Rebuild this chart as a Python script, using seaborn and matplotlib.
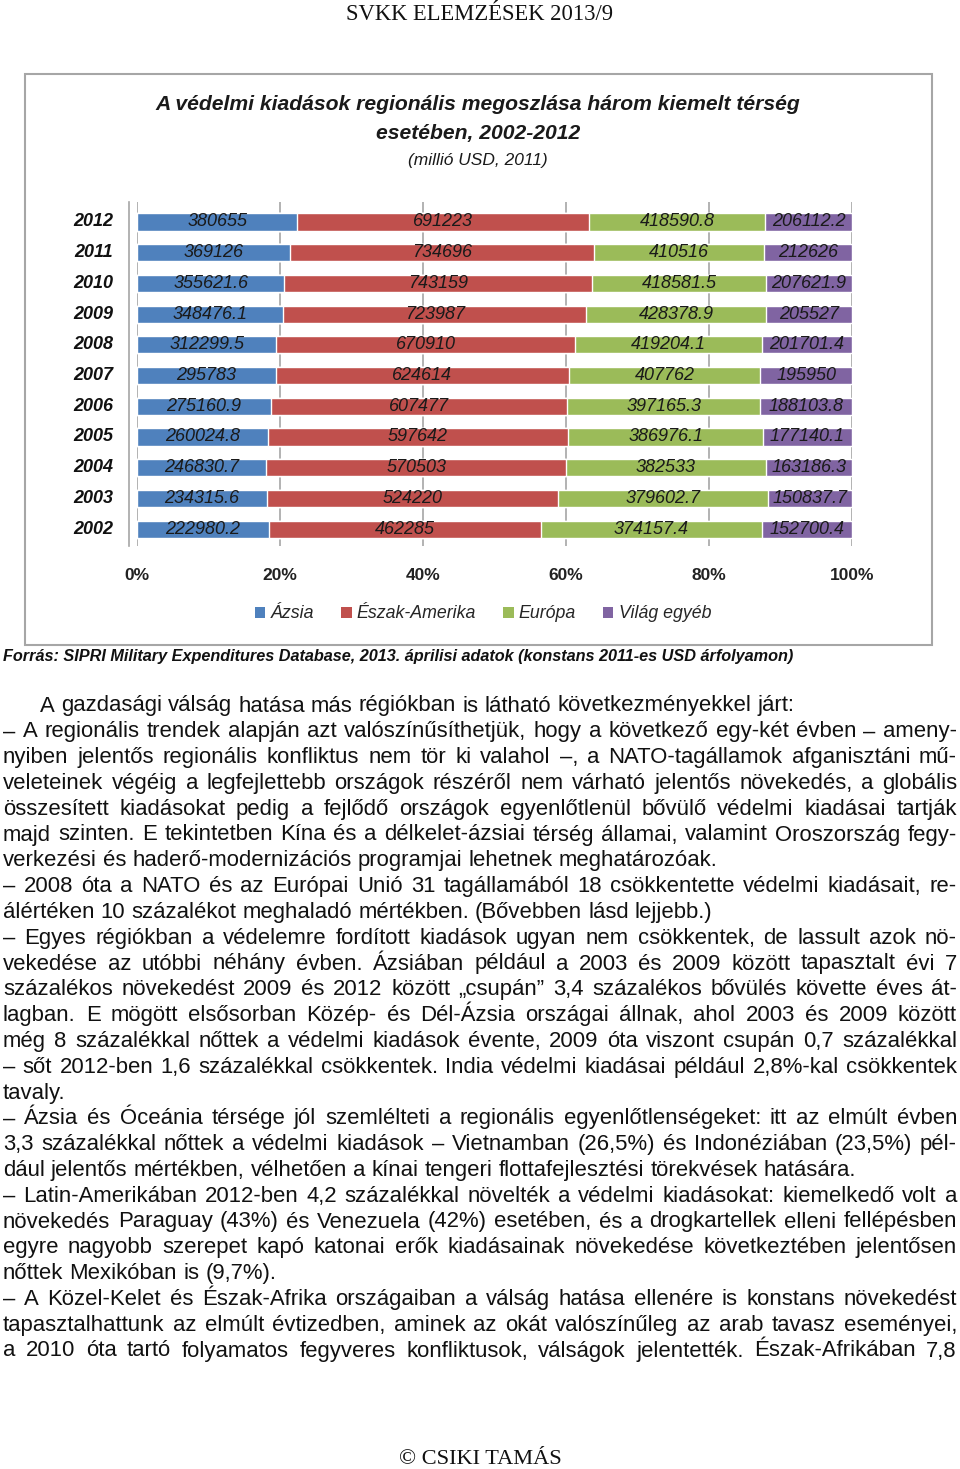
import matplotlib
matplotlib.use("Agg")
import matplotlib.pyplot as plt
import matplotlib.transforms as mtransforms
import numpy as np
import pandas as pd
import seaborn as sns
from matplotlib.patches import Patch, Rectangle


W, H = 960, 1469

YEARS = ["2012", "2011", "2010", "2009", "2008", "2007", "2006", "2005", "2004", "2003", "2002"]
ASIA = [380655, 369126, 355621.6, 348476.1, 312299.5, 295783, 275160.9, 260024.8, 246830.7, 234315.6, 222980.2]
NORTH_AMERICA = [691223, 734696, 743159, 723987, 670910, 624614, 607477, 597642, 570503, 524220, 462285]
EUROPE = [418590.8, 410516, 418581.5, 428378.9, 419204.1, 407762, 397165.3, 386976.1, 382533, 379602.7, 374157.4]
OTHER = [206112.2, 212626, 207621.9, 205527, 201701.4, 195950, 188103.8, 177140.1, 163186.3, 150837.7, 152700.4]
REGIONS = ["Ázsia", "Észak-Amerika", "Európa", "Világ egyéb"]
COLORS = ["#4f81bd", "#c0504d", "#9bbb59", "#8064a2"]
X_TICKS = [0, 20, 40, 60, 80, 100]

TITLE_1 = "A védelmi kiadások regionális megoszlása három kiemelt térség"
TITLE_2 = "esetében, 2002-2012"
SUBTITLE = "(millió USD, 2011)"
HEADER = "SVKK ELEMZÉSEK 2013/9"
FOOTER = "© CSIKI TAMÁS"
SOURCE = "Forrás: SIPRI Military Expenditures Database, 2013. áprilisi adatok (konstans 2011-es USD árfolyamon)"

# paragraphs as printed: (lines, indent, justify last line)
PARAGRAPHS = [
    (["A gazdasági válság hatása más régiókban is látható következményekkel járt:"], 40, False),
    ([
        "– A regionális trendek alapján azt valószínűsíthetjük, hogy a következő egy-két évben – ameny-",
        "nyiben jelentős regionális konfliktus nem tör ki valahol –, a NATO-tagállamok afganisztáni mű-",
        "veleteinek végéig a legfejlettebb országok részéről nem várható jelentős növekedés, a globális",
        "összesített kiadásokat pedig a fejlődő országok egyenlőtlenül bővülő védelmi kiadásai tartják",
        "majd szinten. E tekintetben Kína és a délkelet-ázsiai térség államai, valamint Oroszország fegy-",
        "verkezési és haderő-modernizációs programjai lehetnek meghatározóak.",
    ], 3, False),
    ([
        "– 2008 óta a NATO és az Európai Unió 31 tagállamából 18 csökkentette védelmi kiadásait, re-",
        "álértéken 10 százalékot meghaladó mértékben. (Bővebben lásd lejjebb.)",
    ], 3, False),
    ([
        "– Egyes régiókban a védelemre fordított kiadások ugyan nem csökkentek, de lassult azok nö-",
        "vekedése az utóbbi néhány évben. Ázsiában például a 2003 és 2009 között tapasztalt évi 7",
        "százalékos növekedést 2009 és 2012 között „csupán” 3,4 százalékos bővülés követte éves át-",
        "lagban. E mögött elsősorban Közép- és Dél-Ázsia országai állnak, ahol 2003 és 2009 között",
        "még 8 százalékkal nőttek a védelmi kiadások évente, 2009 óta viszont csupán 0,7 százalékkal",
        "– sőt 2012-ben 1,6 százalékkal csökkentek. India védelmi kiadásai például 2,8%-kal csökkentek",
        "tavaly.",
    ], 3, False),
    ([
        "– Ázsia és Óceánia térsége jól szemlélteti a regionális egyenlőtlenségeket: itt az elmúlt évben",
        "3,3 százalékkal nőttek a védelmi kiadások – Vietnamban (26,5%) és Indonéziában (23,5%) pél-",
        "dául jelentős mértékben, vélhetően a kínai tengeri flottafejlesztési törekvések hatására.",
    ], 3, False),
    ([
        "– Latin-Amerikában 2012-ben 4,2 százalékkal növelték a védelmi kiadásokat: kiemelkedő volt a",
        "növekedés Paraguay (43%) és Venezuela (42%) esetében, és a drogkartellek elleni fellépésben",
        "egyre nagyobb szerepet kapó katonai erők kiadásainak növekedése következtében jelentősen",
        "nőttek Mexikóban is (9,7%).",
    ], 3, False),
    ([
        "– A Közel-Kelet és Észak-Afrika országaiban a válság hatása ellenére is konstans növekedést",
        "tapasztalhattunk az elmúlt évtizedben, aminek az okát valószínűleg az arab tavasz eseményei,",
        "a 2010 óta tartó folyamatos fegyveres konfliktusok, válságok jelentették. Észak-Afrikában 7,8",
    ], 3, True),
]

SANS = ["Liberation Sans", "DejaVu Sans"]
SERIF = ["Liberation Serif", "DejaVu Serif"]


def fx(px):
    return px / W


def fy(py):
    return 1 - py / H


def fmt(v):
    return f"{v:.1f}".rstrip("0").rstrip(".")


def fit(text, target_px):
    text.set_fontsize(text.get_fontsize() * target_px / text.get_window_extent(renderer).width)


sns.set_theme(style="white")
plt.rcParams["font.family"] = SANS

fig = plt.figure(figsize=(W / 100, H / 100), dpi=100)
fig.patch.set_facecolor("white")
renderer = fig.canvas.get_renderer()

# chart frame
fig.patches.append(Rectangle((fx(25), fy(645)), fx(932) - fx(25), fy(74) - fy(645),
                             transform=fig.transFigure, fill=False, edgecolor="#a6a6a6", linewidth=1.5))

df = pd.DataFrame({"year": YEARS, "asia": ASIA, "na": NORTH_AMERICA, "eu": EUROPE, "other": OTHER})
cols = ["asia", "na", "eu", "other"]
shares = df[cols].div(df[cols].sum(axis=1), axis=0) * 100
cum = shares.cumsum(axis=1)
starts = cum - shares

ax = fig.add_axes([fx(137), fy(546), fx(852) - fx(137), fy(202) - fy(546)])
for col, color in zip(cols[::-1], COLORS[::-1]):
    sns.barplot(x=cum[col], y=df["year"], orient="h", order=YEARS, color=color,
                saturation=1, width=0.56, ax=ax, zorder=3)

for col in cols:
    for j in range(len(YEARS)):
        ax.text(starts[col].iloc[j] + shares[col].iloc[j] / 2, j, fmt(df[col].iloc[j]),
                ha="center", va="center", fontsize=13, style="italic", color="#1a1a1a", zorder=4)

# year labels
ylab = mtransforms.blended_transform_factory(fig.transFigure, ax.transData)
for j, year in enumerate(YEARS):
    ax.text(fx(113), j, year, transform=ylab, ha="right", va="center", fontsize=13,
            fontweight="bold", style="italic", color="#111111")

ax.set_xlim(0, 100)
ax.set_ylim(len(YEARS) - 0.45, -0.65)
ax.set_xticks(X_TICKS)
ax.set_xticklabels([f"{t}%" for t in X_TICKS], fontsize=12.5, fontweight="bold", color="#222222")
ax.set_yticks([])
ax.tick_params(axis="x", length=0, pad=16)
ax.set_xlabel("")
ax.set_ylabel("")
ax.grid(axis="x", color="#a6a6a6", linewidth=1.2, zorder=0)
for side in ["top", "right", "bottom"]:
    ax.spines[side].set_visible(False)
ax.spines["left"].set_position(("outward", 6))
ax.spines["left"].set_color("#a6a6a6")
ax.spines["left"].set_linewidth(1.2)

t1 = fig.text(fx(478), fy(104), TITLE_1, ha="center", va="center", fontsize=15.5,
              fontweight="bold", style="italic", color="#1a1a1a")
fit(t1, 647)
fig.text(fx(478), fy(133), TITLE_2, ha="center", va="center", fontsize=t1.get_fontsize(),
         fontweight="bold", style="italic", color="#1a1a1a")
fig.text(fx(478), fy(161), SUBTITLE, ha="center", va="center", fontsize=12.5,
         style="italic", color="#1a1a1a")

handles = [Patch(facecolor=c, edgecolor="none") for c in COLORS]
fig.legend(handles, REGIONS, loc="center", bbox_to_anchor=(fx(483), fy(614)), ncol=4,
           frameon=False, handlelength=0.6, handleheight=0.6, handletextpad=0.3,
           columnspacing=1.5, prop={"size": 12.8, "style": "italic", "family": SANS})

# page header / footer
hdr = fig.text(0.5, fy(14), HEADER, ha="center", va="center", fontsize=14, family=SERIF, color="#111111")
fit(hdr, 270)
ftr = fig.text(fx(480), fy(1459), FOOTER, ha="center", va="center", fontsize=14, family=SERIF, color="#111111")
fit(ftr, 164)

# source line, fitted to its printed width
src = fig.text(fx(3), fy(656), SOURCE, ha="left", va="center", fontsize=11,
               fontweight="bold", style="italic", color="#111111")
fit(src, 794)

# body text
probe = fig.text(0, 0, PARAGRAPHS[0][0][0], fontsize=14)
fit(probe, 760)
body_fs = probe.get_fontsize()
probe.remove()
sp = fig.text(0, 0, "x x", fontsize=body_fs)
nsp = fig.text(0, 0, "xx", fontsize=body_fs)
space = sp.get_window_extent(renderer).width - nsp.get_window_extent(renderer).width
sp.remove()
nsp.remove()

right = 957
row = 0
for lines, indent, justify_last in PARAGRAPHS:
    for k, line in enumerate(lines):
        y = 706 + row * 25.8
        words = line.split(" ")
        texts = [fig.text(0, fy(y), w, ha="left", va="center", fontsize=body_fs,
                          color="#111111") for w in words]
        widths = [t.get_window_extent(renderer).width for t in texts]
        justify = (k < len(lines) - 1 or justify_last) and len(words) > 1
        gap = (right - indent - sum(widths)) / (len(words) - 1) if justify else space
        x = indent
        for t, wd in zip(texts, widths):
            t.set_x(fx(x))
            x += wd + gap
        row += 1

fig.savefig("out.png", dpi=100, facecolor="white")
